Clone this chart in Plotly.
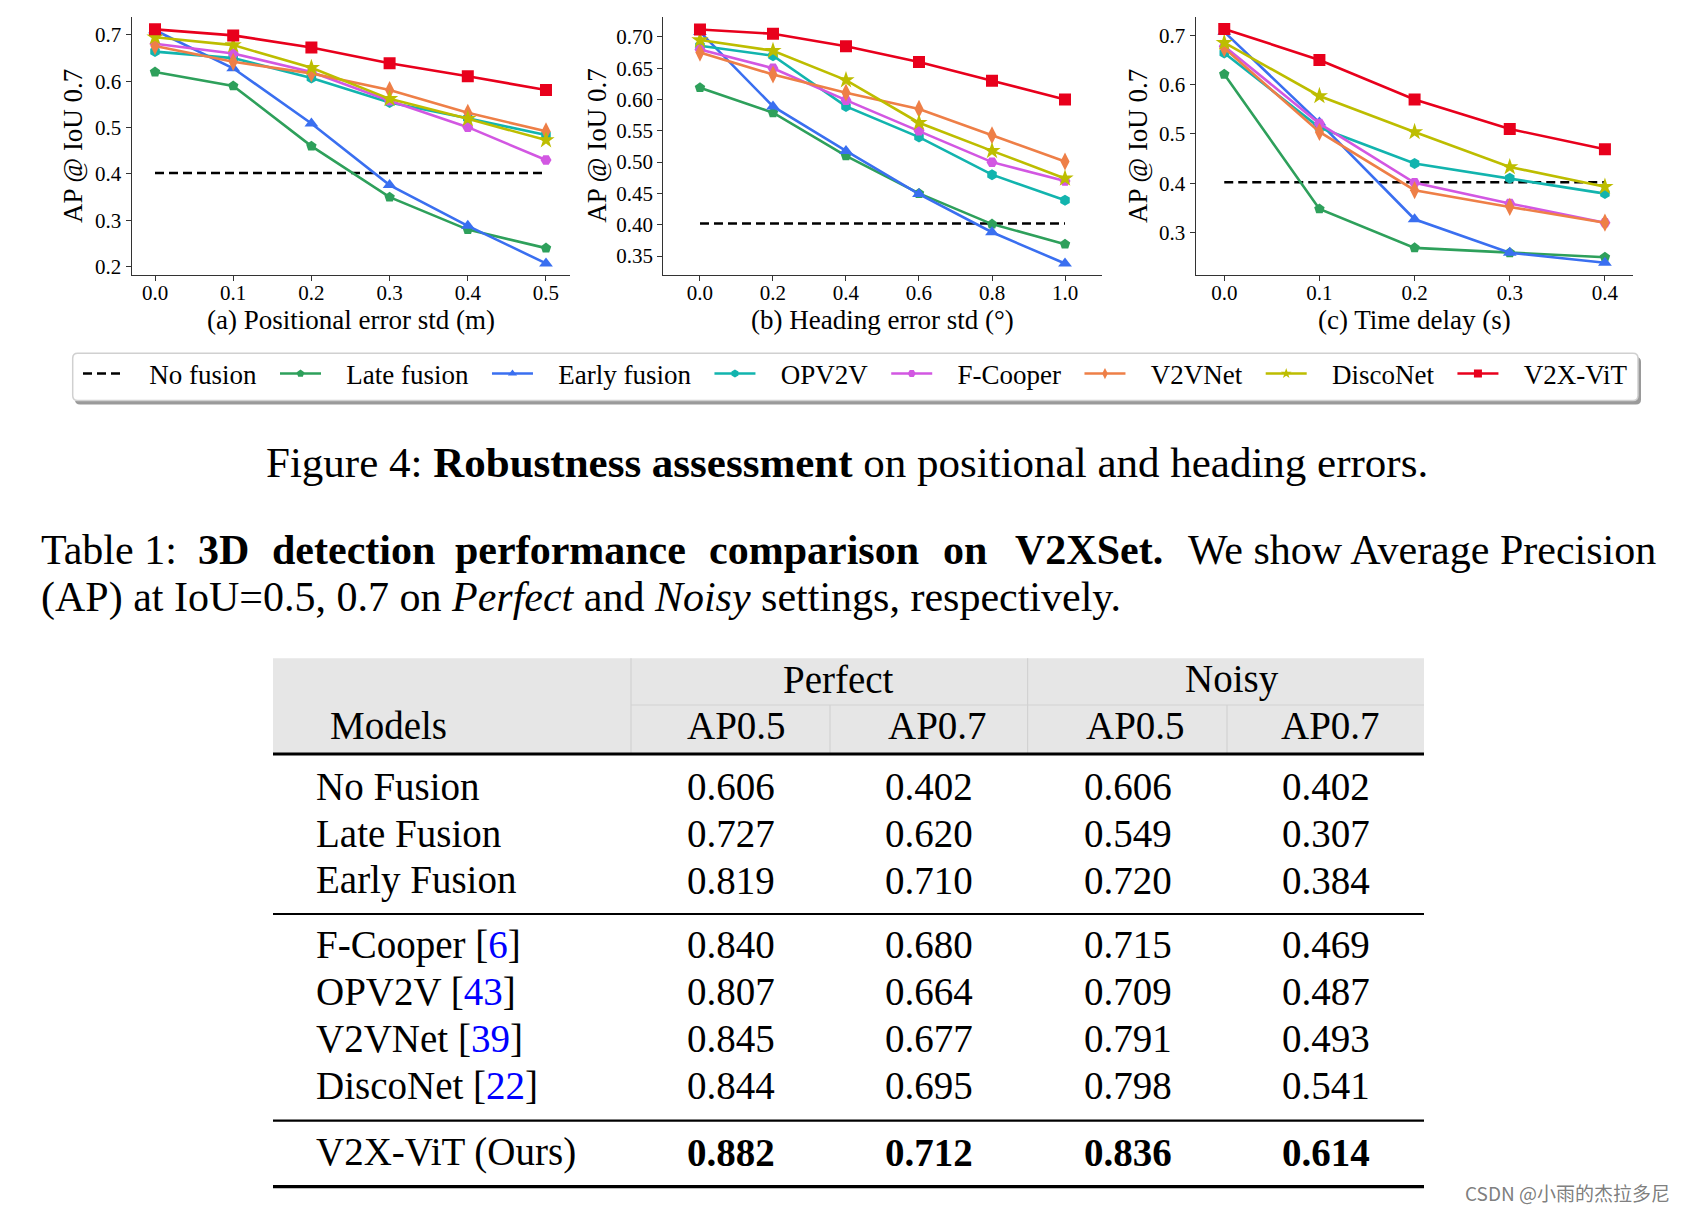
import plotly.graph_objects as go

W, H = 1688, 1210

def px(x):
    return x / W

def py(y):
    return 1 - y / H

# ---------------- data ----------------
methods = ["No fusion", "Late fusion", "Early fusion", "OPV2V", "F-Cooper", "V2VNet", "DiscoNet", "V2X-ViT"]
colors = ["#000000", "#2ea05b", "#3a6ff0", "#12b4ae", "#d257e2", "#ee7f47", "#bdbd00", "#e8001c"]
symbols = ["circle", "pentagon", "triangle-up", "hexagon", "hexagon2", "diamond-tall", "star", "square"]

pos_x = [0.0, 0.1, 0.2, 0.3, 0.4, 0.5]
pos_no_fusion = [0.402, 0.402, 0.402, 0.402, 0.402, 0.402]
pos_late = [0.620, 0.590, 0.460, 0.350, 0.280, 0.240]
pos_early = [0.710, 0.628, 0.509, 0.376, 0.288, 0.207]
pos_opv2v = [0.664, 0.650, 0.607, 0.554, 0.520, 0.484]
pos_fcooper = [0.681, 0.660, 0.620, 0.558, 0.501, 0.430]
pos_v2vnet = [0.676, 0.642, 0.617, 0.581, 0.532, 0.492]
pos_disconet = [0.695, 0.678, 0.629, 0.562, 0.519, 0.473]
pos_v2xvit = [0.712, 0.699, 0.673, 0.639, 0.611, 0.581]

head_x = [0.0, 0.2, 0.4, 0.6, 0.8, 1.0]
head_no_fusion = [0.402, 0.402, 0.402, 0.402, 0.402, 0.402]
head_late = [0.619, 0.579, 0.510, 0.450, 0.401, 0.369]
head_early = [0.708, 0.589, 0.518, 0.449, 0.388, 0.338]
head_opv2v = [0.686, 0.670, 0.589, 0.540, 0.480, 0.439]
head_fcooper = [0.680, 0.650, 0.599, 0.550, 0.500, 0.470]
head_v2vnet = [0.675, 0.640, 0.611, 0.585, 0.543, 0.501]
head_disconet = [0.695, 0.678, 0.631, 0.563, 0.518, 0.474]
head_v2xvit = [0.712, 0.705, 0.685, 0.660, 0.630, 0.600]

delay_x = [0.0, 0.1, 0.2, 0.3, 0.4]
delay_no_fusion = [0.402, 0.402, 0.402, 0.402, 0.402]
delay_late = [0.621, 0.348, 0.269, 0.259, 0.250]
delay_early = [0.707, 0.523, 0.327, 0.259, 0.239]
delay_opv2v = [0.664, 0.513, 0.440, 0.410, 0.379]
delay_fcooper = [0.678, 0.521, 0.401, 0.359, 0.320]
delay_v2vnet = [0.674, 0.504, 0.386, 0.352, 0.320]
delay_disconet = [0.685, 0.577, 0.504, 0.433, 0.393]
delay_v2xvit = [0.713, 0.650, 0.570, 0.510, 0.469]

pos_yticks = [0.2, 0.3, 0.4, 0.5, 0.6, 0.7]
head_yticks = [0.35, 0.40, 0.45, 0.50, 0.55, 0.60, 0.65, 0.70]
delay_yticks = [0.3, 0.4, 0.5, 0.6, 0.7]

x_titles = ["(a) Positional error std (m)", "(b) Heading error std (°)", "(c) Time delay (s)"]
y_title = "AP @ IoU 0.7"

# table
table_models = ["No Fusion", "Late Fusion", "Early Fusion", "F-Cooper", "OPV2V", "V2VNet", "DiscoNet", "V2X-ViT (Ours)"]
table_refs = ["", "", "", "6", "43", "39", "22", ""]
perfect_ap05 = ["0.606", "0.727", "0.819", "0.840", "0.807", "0.845", "0.844", "0.882"]
perfect_ap07 = ["0.402", "0.620", "0.710", "0.680", "0.664", "0.677", "0.695", "0.712"]
noisy_ap05 = ["0.606", "0.549", "0.720", "0.715", "0.709", "0.791", "0.798", "0.836"]
noisy_ap07 = ["0.402", "0.307", "0.384", "0.469", "0.487", "0.493", "0.541", "0.614"]
group_headers = ["Perfect", "Noisy"]
col_headers = ["AP0.5", "AP0.7", "AP0.5", "AP0.7"]

# captions
fig_caption = "Figure 4: <b>Robustness assessment</b> on positional and heading errors."
table_caption_l1_words = ["Table 1:", "<b>3D</b>", "<b>detection</b>", "<b>performance</b>", "<b>comparison</b>",
                          "<b>on</b>", "<b>V2XSet.</b>"]
table_caption_l1_tail = "We show Average Precision"
table_caption_l2 = "(AP) at IoU=0.5, 0.7 on <i>Perfect</i> and <i>Noisy</i> settings, respectively."

panels = [
    (pos_x, [pos_no_fusion, pos_late, pos_early, pos_opv2v, pos_fcooper, pos_v2vnet, pos_disconet, pos_v2xvit]),
    (head_x, [head_no_fusion, head_late, head_early, head_opv2v, head_fcooper, head_v2vnet, head_disconet, head_v2xvit]),
    (delay_x, [delay_no_fusion, delay_late, delay_early, delay_opv2v, delay_fcooper, delay_v2vnet, delay_disconet, delay_v2xvit]),
]

marker_sizes = [0, 11, 12, 11, 11, 13, 13, 12]

fig = go.Figure()
axis_ids = ["", "2", "3"]
for k, (xs, series) in enumerate(panels):
    for i, ys in enumerate(series):
        if i == 0:
            fig.add_trace(go.Scatter(x=xs, y=ys, mode="lines", name=methods[i],
                                     line=dict(color=colors[i], width=2.6, dash="9px,5px"),
                                     xaxis="x" + axis_ids[k], yaxis="y" + axis_ids[k],
                                     showlegend=False, hoverinfo="skip"))
        else:
            fig.add_trace(go.Scatter(x=xs, y=ys, mode="lines+markers", name=methods[i],
                                     line=dict(color=colors[i], width=2.6),
                                     marker=dict(symbol=symbols[i], size=marker_sizes[i], color=colors[i], line=dict(width=0)),
                                     xaxis="x" + axis_ids[k], yaxis="y" + axis_ids[k],
                                     showlegend=False, hoverinfo="skip"))

# legend entries (small markers as in the reference); non-breaking spaces give the reference's spacing
NB = "\u00a0"
for i, m in enumerate(methods):
    label = NB * 3 + m + (NB * 2 if i < len(methods) - 1 else "")
    if i == 0:
        fig.add_trace(go.Scatter(x=[None], y=[None], mode="lines", name=label,
                                 line=dict(color=colors[i], width=2.6, dash="9px,5px"), legendgroup=m))
    else:
        fig.add_trace(go.Scatter(x=[None], y=[None], mode="lines+markers", name=label,
                                 line=dict(color=colors[i], width=2.6),
                                 marker=dict(symbol=symbols[i], size=8, color=colors[i], line=dict(width=0)),
                                 legendgroup=m))

axis_line = "#333333"
tickfont = dict(family="Liberation Serif", size=21, color="black")

def ax(dom, rng, tickvals, fmt, anchor, standoff=0):
    return dict(domain=dom, range=rng, tickvals=tickvals, tickformat=fmt, anchor=anchor,
                showline=True, linecolor=axis_line, linewidth=1.3, ticks="outside", ticklen=5,
                tickwidth=1.2, tickcolor=axis_line, showgrid=False, zeroline=False, tickfont=tickfont,
                ticklabelstandoff=standoff)

ydom = [py(275), py(17.3)]
fig.update_layout(
    xaxis=ax([px(131.7), px(570)], [-0.0298, 0.5307], pos_x, ".1f", "y", -6),
    yaxis=ax(ydom, [0.182, 0.738], pos_yticks, ".1f", "x"),
    xaxis2=ax([px(663.3), px(1101.5)], [-0.1005, 1.1], head_x, ".1f", "y2", -6),
    yaxis2=ax(ydom, [0.3197, 0.7314], head_yticks, ".2f", "x2"),
    xaxis3=ax([px(1195.7), px(1633)], [-0.030, 0.4295], delay_x, ".1f", "y3", -6),
    yaxis3=ax(ydom, [0.214, 0.7365], delay_yticks, ".1f", "x3"),
)

annotations = []
# axis titles
x_title_centers = [350.9, 882.4, 1414.4]
y_title_centers = [73, 596.7, 1138]
for k in range(3):
    annotations.append(dict(text=x_titles[k], x=px(x_title_centers[k]), y=py(320), xref="paper", yref="paper",
                            xanchor="center", yanchor="middle", showarrow=False,
                            font=dict(family="Liberation Serif", size=27, color="black")))
    annotations.append(dict(text=y_title, x=px(y_title_centers[k]), y=py(146), xref="paper", yref="paper",
                            xanchor="center", yanchor="middle", showarrow=False, textangle=-90,
                            font=dict(family="Liberation Serif", size=27, color="black")))

cap_font = dict(family="Liberation Serif", size=42, color="black")
annotations.append(dict(text=fig_caption, x=px(847.5), y=py(462), xref="paper", yref="paper",
                        xanchor="center", yanchor="middle", showarrow=False,
                        font=dict(family="Liberation Serif", size=43, color="black")))
# justified first caption line: words placed at their left edges
l1_left = [39, 196, 270, 453, 707, 941, 1013]
for wtxt, lx in zip(table_caption_l1_words, l1_left):
    annotations.append(dict(text=wtxt, x=px(lx), y=py(550), xref="paper", yref="paper",
                            xanchor="left", yanchor="middle", showarrow=False, font=cap_font))
annotations.append(dict(text=table_caption_l1_tail, x=px(1658), y=py(550), xref="paper", yref="paper",
                        xanchor="right", yanchor="middle", showarrow=False, font=cap_font))
annotations.append(dict(text=table_caption_l2, x=px(39), y=py(597), xref="paper", yref="paper",
                        xanchor="left", yanchor="middle", showarrow=False, font=cap_font))

# table text
tfont = dict(family="Liberation Serif", size=39, color="black")
group_x = [838.7, 1231.5]
for g, gx in zip(group_headers, group_x):
    annotations.append(dict(text=g, x=px(gx), y=py(679), xref="paper", yref="paper", xanchor="center",
                            yanchor="middle", showarrow=False, font=tfont))
annotations.append(dict(text="Models", x=px(328), y=py(725), xref="paper", yref="paper", xanchor="left",
                        yanchor="middle", showarrow=False, font=tfont))
col_hx = [736, 937, 1135, 1330.5]
for c, cx in zip(col_headers, col_hx):
    annotations.append(dict(text=c, x=px(cx), y=py(725), xref="paper", yref="paper", xanchor="center",
                            yanchor="middle", showarrow=False, font=tfont))

row_y = [786, 833, 880, 945, 991.7, 1038.5, 1085.7, 1152.3]
col_vx = [731, 929, 1128, 1326]
cols = [perfect_ap05, perfect_ap07, noisy_ap05, noisy_ap07]
for r, name in enumerate(table_models):
    label = name
    if table_refs[r]:
        label = name + " [<span style='color:#0000ff'>" + table_refs[r] + "</span>]"
    annotations.append(dict(text=label, x=px(314), y=py(row_y[r]), xref="paper", yref="paper",
                            xanchor="left", yanchor="middle", showarrow=False, font=tfont))
    for c in range(4):
        v = cols[c][r]
        if r == len(table_models) - 1:
            v = "<b>" + v + "</b>"
        annotations.append(dict(text=v, x=px(col_vx[c]), y=py(row_y[r]), xref="paper", yref="paper",
                                xanchor="center", yanchor="middle", showarrow=False, font=tfont))

annotations.append(dict(text="CSDN @小雨的杰拉多尼", x=px(1672), y=py(1192), xref="paper", yref="paper",
                        xanchor="right", yanchor="middle", showarrow=False,
                        font=dict(family="Noto Sans CJK SC", size=19, color="rgba(110,110,110,0.9)")))

# shapes
shapes = []

def rounded(x0, y0, x1, y1, r):
    rx, ry = r / W, r / H
    X0, X1, Y0, Y1 = px(x0), px(x1), py(y0), py(y1)
    return (f"M {X0+rx},{Y0} L {X1-rx},{Y0} Q {X1},{Y0} {X1},{Y0-ry} L {X1},{Y1+ry} Q {X1},{Y1} {X1-rx},{Y1} "
            f"L {X0+rx},{Y1} Q {X0},{Y1} {X0},{Y1+ry} L {X0},{Y0-ry} Q {X0},{Y0} {X0+rx},{Y0} Z")

shapes.append(dict(type="path", path=rounded(75, 357, 1641, 404.5, 5), xref="paper", yref="paper",
                   fillcolor="#9a9a9a", line=dict(width=0), layer="above"))
shapes.append(dict(type="path", path=rounded(72.7, 353.3, 1638, 400.5, 5), xref="paper", yref="paper",
                   fillcolor="white", line=dict(color="#d0d0d0", width=1.5), layer="above"))

# table header background
shapes.append(dict(type="rect", x0=px(273), x1=px(1424), y0=py(658.3), y1=py(753), xref="paper", yref="paper",
                   fillcolor="#e6e6e6", line=dict(width=0), layer="above"))
for (x0, y0, x1, y1) in [(631, 658.3, 631, 753), (1027.6, 658.3, 1027.6, 753), (830, 705, 830, 753),
                         (1227, 705, 1227, 753), (631, 705, 1424, 705)]:
    shapes.append(dict(type="line", x0=px(x0), x1=px(x1), y0=py(y0), y1=py(y1), xref="paper", yref="paper",
                       line=dict(color="#d2d2d2", width=1.2), layer="above"))
for (yy, lw) in [(754, 3.2), (914, 2.2), (1120.7, 2.2), (1186.7, 3.2)]:
    shapes.append(dict(type="line", x0=px(273), x1=px(1424), y0=py(yy), y1=py(yy), xref="paper", yref="paper",
                       line=dict(color="black", width=lw), layer="above"))

fig.update_layout(
    width=W, height=H, margin=dict(l=0, r=0, t=0, b=0, autoexpand=False),
    paper_bgcolor="white", plot_bgcolor="white",
    font=dict(family="Liberation Serif", color="black"),
    annotations=annotations, shapes=shapes,
    showlegend=True,
    legend=dict(orientation="h", x=px(78), y=py(374), xanchor="left", yanchor="middle",
                bgcolor="rgba(0,0,0,0)", borderwidth=0, itemwidth=41,
                font=dict(family="Liberation Serif", size=27, color="black"), itemclick=False,
                itemdoubleclick=False),
)

fig.write_html("out.html", config={"displayModeBar": False},
               post_script="document.body.style.margin='0';")
